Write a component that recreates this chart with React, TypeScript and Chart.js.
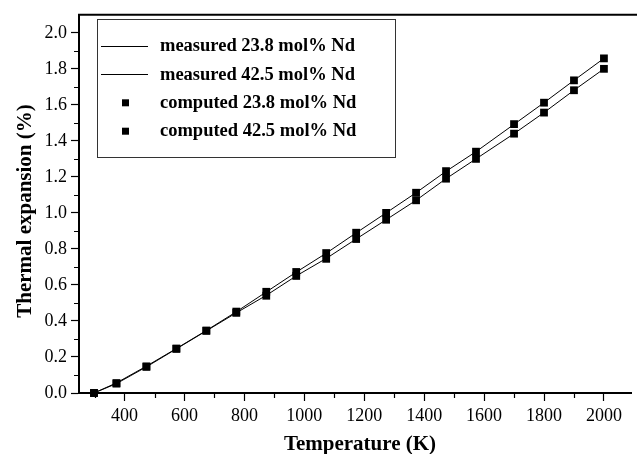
import React, { useEffect, useRef } from 'react';
import { Chart, registerables } from 'chart.js';
Chart.register(...registerables);

const temperatures = [298, 373, 473, 573, 673, 773, 873, 973, 1073, 1173, 1273, 1373, 1473, 1573, 1700, 1800, 1900, 2000];
const measured238 = [0, 0.052, 0.145, 0.245, 0.345, 0.445, 0.542, 0.65, 0.747, 0.855, 0.962, 1.07, 1.19, 1.3, 1.44, 1.557, 1.681, 1.8];
const measured425 = [0, 0.056, 0.149, 0.247, 0.347, 0.451, 0.561, 0.671, 0.776, 0.889, 1.0, 1.112, 1.231, 1.34, 1.492, 1.612, 1.736, 1.858];
const computed238 = [0, 0.052, 0.145, 0.245, 0.345, 0.445, 0.54, 0.65, 0.745, 0.855, 0.962, 1.07, 1.19, 1.3, 1.44, 1.557, 1.681, 1.8];
const computed425 = [0, 0.055, 0.148, 0.247, 0.347, 0.452, 0.562, 0.672, 0.777, 0.89, 1.0, 1.112, 1.232, 1.34, 1.493, 1.612, 1.736, 1.858];

const seriesLabels = ['measured 23.8 mol% Nd', 'measured 42.5 mol% Nd', 'computed 23.8 mol% Nd', 'computed 42.5 mol% Nd'];
const xMajorTicks = [400, 600, 800, 1000, 1200, 1400, 1600, 1800, 2000];
const xMinorTicks = [300, 500, 700, 900, 1100, 1300, 1500, 1700, 1900];
const yMajorTicks = [0, 0.2, 0.4, 0.6, 0.8, 1.0, 1.2, 1.4, 1.6, 1.8, 2.0];
const yMinorTicks = [0.1, 0.3, 0.5, 0.7, 0.9, 1.1, 1.3, 1.5, 1.7, 1.9];
const xTitle = 'Temperature (K)';
const yTitle = 'Thermal expansion (%)';

const SERIF = "'Liberation Serif', 'Times New Roman', serif";

const pts = (ys: number[]) => temperatures.map((t, i) => ({ x: t, y: ys[i] }));

const overlay = {
  id: 'overlay',
  afterDraw(chart: any) {
    const ctx = chart.ctx;
    const { left, top, bottom } = chart.chartArea;
    const xs = chart.scales.x;
    const ys = chart.scales.y;
    ctx.save();
    ctx.strokeStyle = '#000';
    // top frame line
    ctx.lineWidth = 2;
    ctx.beginPath();
    ctx.moveTo(left - 1, top);
    ctx.lineTo(chart.width, top);
    ctx.stroke();
    // minor ticks
    ctx.lineWidth = 1.2;
    ctx.beginPath();
    xMinorTicks.forEach((v) => {
      const px = Math.round(xs.getPixelForValue(v)) + 0.5;
      ctx.moveTo(px, bottom);
      ctx.lineTo(px, bottom + 5);
    });
    yMinorTicks.forEach((v) => {
      const py = Math.round(ys.getPixelForValue(v)) + 0.5;
      ctx.moveTo(left, py);
      ctx.lineTo(left - 5, py);
    });
    ctx.stroke();

    // legend box
    ctx.lineWidth = 1;
    ctx.strokeStyle = '#333';
    ctx.strokeRect(97.5, 19.5, 298, 138);
    const rows = [45.7, 74, 102.3, 130.7];
    ctx.fillStyle = '#000';
    ctx.font = `bold 18.5px ${SERIF}`;
    ctx.textBaseline = 'middle';
    ctx.textAlign = 'left';
    seriesLabels.forEach((lab, i) => {
      const y = rows[i];
      if (i < 2) {
        ctx.strokeStyle = '#000';
        ctx.lineWidth = 1;
        ctx.beginPath();
        ctx.moveTo(101, Math.round(y) + 0.5);
        ctx.lineTo(148, Math.round(y) + 0.5);
        ctx.stroke();
      } else {
        ctx.fillRect(122, y - 3, 7, 7);
      }
      ctx.fillText(lab, 160, y + 1);
    });

    // axis titles
    ctx.font = `bold 21px ${SERIF}`;
    ctx.textAlign = 'center';
    ctx.textBaseline = 'alphabetic';
    ctx.fillText(xTitle, 360, 450);
    ctx.save();
    ctx.translate(31, 211);
    ctx.rotate(-Math.PI / 2);
    ctx.fillText(yTitle, 0, 0);
    ctx.restore();
    ctx.restore();
  },
};

export default function App() {
  const ref = useRef<HTMLCanvasElement | null>(null);
  useEffect(() => {
    document.body.style.margin = '0';
    const canvas = ref.current!;
    const chart = new Chart(canvas, {
      type: 'scatter',
      data: {
        datasets: [
          { label: seriesLabels[0], data: pts(measured238), showLine: true, pointRadius: 0, borderColor: '#000', borderWidth: 1, clip: false } as any,
          { label: seriesLabels[1], data: pts(measured425), showLine: true, pointRadius: 0, borderColor: '#000', borderWidth: 1, clip: false },
          { label: seriesLabels[2], data: pts(computed238), showLine: false, pointStyle: 'rect', pointRadius: 5.5, backgroundColor: '#000', borderColor: '#000', borderWidth: 0, clip: false },
          { label: seriesLabels[3], data: pts(computed425), showLine: false, pointStyle: 'rect', pointRadius: 5.5, backgroundColor: '#000', borderColor: '#000', borderWidth: 0, clip: false },
        ],
      },
      options: {
        animation: false,
        responsive: false,
        maintainAspectRatio: false,
        layout: { padding: { top: 9, right: 0, left: 0, bottom: 0 } },
        plugins: { legend: { display: false }, tooltip: { enabled: false } },
        scales: {
          x: {
            type: 'linear',
            min: 248,
            max: 2092,
            afterBuildTicks: (s: any) => { s.ticks = xMajorTicks.map((v) => ({ value: v })); },
            afterFit: (s: any) => { s.height = 61; },
            grid: { drawOnChartArea: false, drawTicks: true, tickLength: 8, tickColor: '#000', tickWidth: 1.2 },
            border: { display: true, color: '#000', width: 2 },
            ticks: { color: '#000', font: { family: SERIF, size: 18 }, padding: 4, maxRotation: 0, callback: (v: any) => String(v) },
          },
          y: {
            type: 'linear',
            min: 0,
            max: 2.1,
            afterBuildTicks: (s: any) => { s.ticks = yMajorTicks.map((v) => ({ value: v })); },
            afterFit: (s: any) => { s.width = 79; },
            grid: { drawOnChartArea: false, drawTicks: true, tickLength: 8, tickColor: '#000', tickWidth: 1.2 },
            border: { display: true, color: '#000', width: 2 },
            ticks: { color: '#000', font: { family: SERIF, size: 18 }, padding: 4, callback: (v: any) => Number(v).toFixed(1) },
          },
        },
      },
      plugins: [overlay],
    });
    return () => chart.destroy();
  }, []);
  return <canvas ref={ref} width={637} height={454} style={{ display: 'block', width: 637, height: 454 }} />;
}
